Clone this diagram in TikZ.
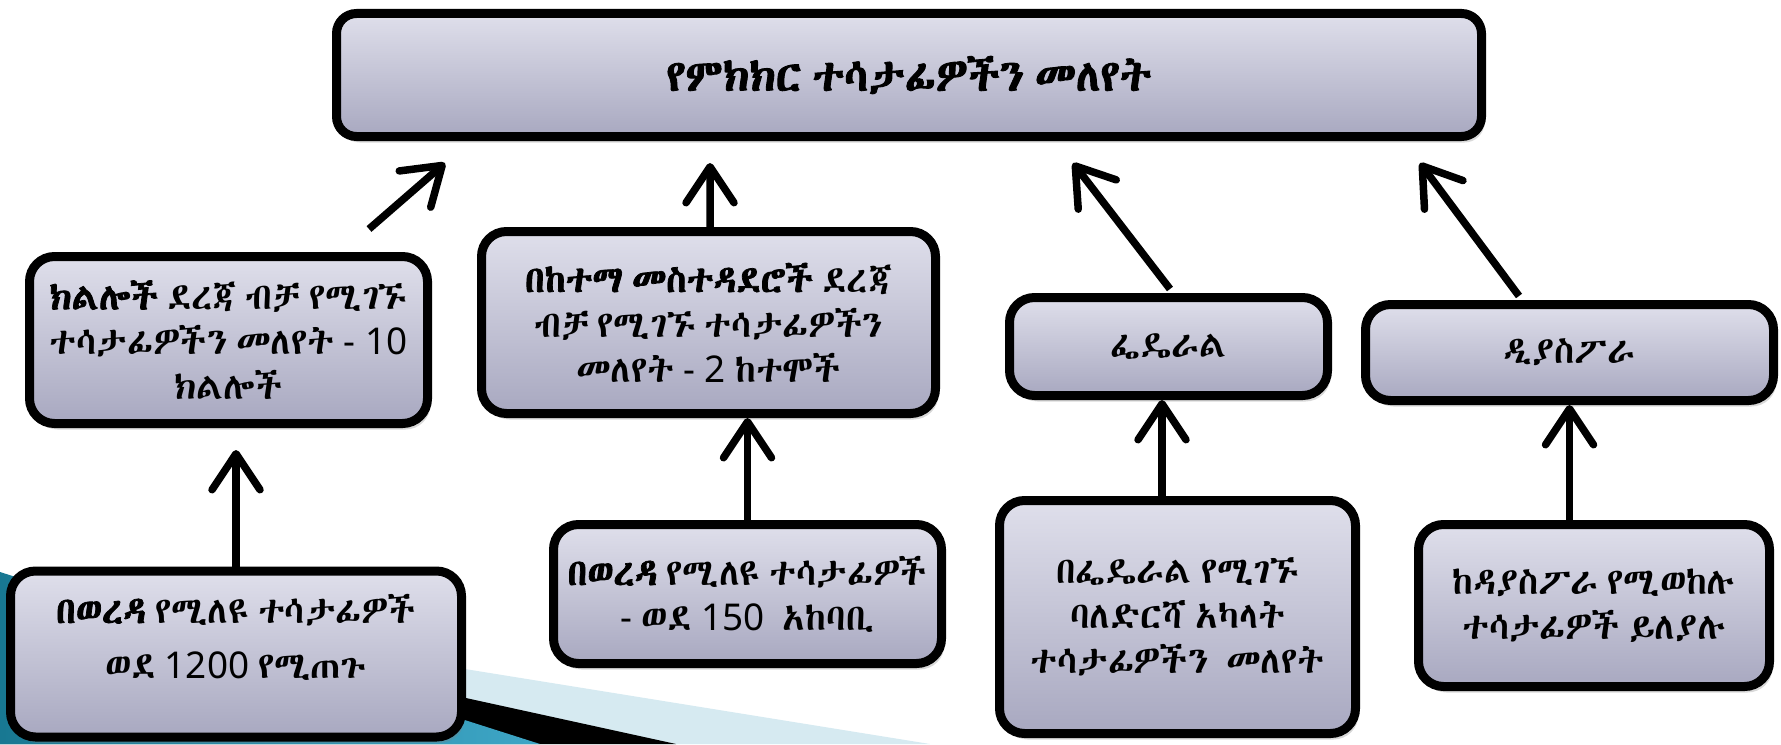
\documentclass[tikz,border=0pt]{standalone}
\usepackage{fontspec}
\IfFontExistsTF{FreeSerif.otf}{\setmainfont{FreeSerif.otf}[WordSpace=0.55, BoldFont=FreeSerif.otf, BoldFeatures={FakeBold=2}]}{%
  \setmainfont{Abyssinica SIL}[WordSpace=0.55, BoldFont={Abyssinica SIL}, BoldFeatures={FakeBold=2}]}
\newfontfamily\latn{Noto Sans}
\newcommand{\zahl}[1]{{\latn #1}}
\usetikzlibrary{arrows.meta,shadows}
\definecolor{kastenoben}{RGB}{223,223,235}
\definecolor{kastenunten}{RGB}{168,168,192}
\definecolor{bandhell}{RGB}{214,234,241}
\definecolor{tuerkisdunkel}{RGB}{24,120,146}
\definecolor{tuerkishell}{RGB}{62,166,198}
\begin{document}
\begin{tikzpicture}
\tikzset{kasten/.style={rectangle, rounded corners=0.25cm, line width=0.09cm, draw=black, top color=kastenoben, bottom color=kastenunten, align=center, inner sep=0, drop shadow={shadow xshift=0.03cm, shadow yshift=-0.06cm, opacity=0.3}, font=\fontsize{10.5}{12.8}\selectfont}}
\tikzset{pfeil/.style={line width=0.075cm, draw=black, -{Straight Barb[length=0.36cm, width=0.48cm, round]}}}
\useasboundingbox (0,0) rectangle (17.81,7.44);

% background swoosh
\fill[bandhell] (0,1.50) -- (9.30,0) -- (0,0) -- cycle;
\fill[black] (0,1.48) -- (6.76,0) -- (0,0) -- cycle;
\shade[left color=tuerkisdunkel, right color=tuerkishell] (0,1.72) -- (5.40,0) -- (0,0) -- cycle;

\node[kasten, rounded corners=0.2cm, minimum width=11.45cm, minimum height=1.23cm, font=\fontsize{12.5}{16}\selectfont\bfseries] at (9.09, 6.69) (top) {የምክክር ተሳታፊዎችን መለየት};
\node[kasten, minimum width=3.98cm, minimum height=1.67cm] at (2.285, 4.04) (k1) {\textbf{ክልሎች} ደረጃ ብቻ የሚገኙ\\ ተሳታፊዎችን መለየት \zahl{- 10}\\ ክልሎች};
\node[kasten, minimum width=4.54cm, minimum height=1.82cm] at (7.085, 4.215) (k2) {\textbf{በከተማ መስተዳደሮች} ደረጃ\\ ብቻ የሚገኙ ተሳታፊዎችን\\ መለየት \zahl{- 2} ከተሞች};
\node[kasten, minimum width=3.18cm, minimum height=0.98cm] at (11.685, 3.975) (k3) {ፌዴራል};
\node[kasten, minimum width=4.08cm, minimum height=0.96cm] at (15.695, 3.915) (k4) {ዲያስፖራ};
\node[kasten, minimum width=4.51cm, minimum height=1.66cm] at (2.36, 0.9) (u1) {\textbf{በወረዳ} የሚለዩ ተሳታፊዎች\\[0.1cm] ወደ \zahl{1200} የሚጠጉ\\[-0.09cm]\mbox{}};
\node[kasten, minimum width=3.88cm, minimum height=1.39cm] at (7.475, 1.50) (u2) {\textbf{በወረዳ} የሚለዩ ተሳታፊዎች\\ \zahl{-} ወደ \zahl{150}\ \ አከባቢ};
\node[kasten, minimum width=3.56cm, minimum height=2.33cm] at (11.775, 1.27) (u3) {በፌዴራል የሚገኙ\\ ባለድርሻ አካላት\\ ተሳታፊዎችን\ \ መለየት};
\node[kasten, minimum width=3.51cm, minimum height=1.62cm] at (15.94, 1.385) (u4) {ከዳያስፖራ የሚወከሉ\\ ተሳታፊዎች ይለያሉ};

			% upper arrows
			\draw [pfeil] ([xshift=1.405cm, yshift=0.23cm]k1.north) -- ([xshift=-4.64cm, yshift=-0.22cm]top.south);
			\draw [pfeil] ([xshift=0.015cm]k2.north) -- ([xshift=-1.99cm, yshift=-0.22cm]top.south);
			\draw [pfeil] ([xshift=0.015cm, yshift=0.04cm]k3.north) -- ([xshift=1.64cm, yshift=-0.22cm]top.south);
			\draw [pfeil] ([xshift=-0.505cm, yshift=0.04cm]k4.north) -- ([xshift=5.11cm, yshift=-0.22cm]top.south);

			% lower arrows
			\draw [pfeil, shorten >=0.22cm] (u1.north) -- (u1.north |- k1.south);
			\draw [pfeil] (u2.north) -- (u2.north |- k2.south);
			\draw [pfeil] ([xshift=-0.155cm]u3.north) -- ([xshift=-0.155cm]u3.north |- k3.south);
			\draw [pfeil] (k4.south |- u4.north) -- (k4.south);
\end{tikzpicture}
\end{document}
